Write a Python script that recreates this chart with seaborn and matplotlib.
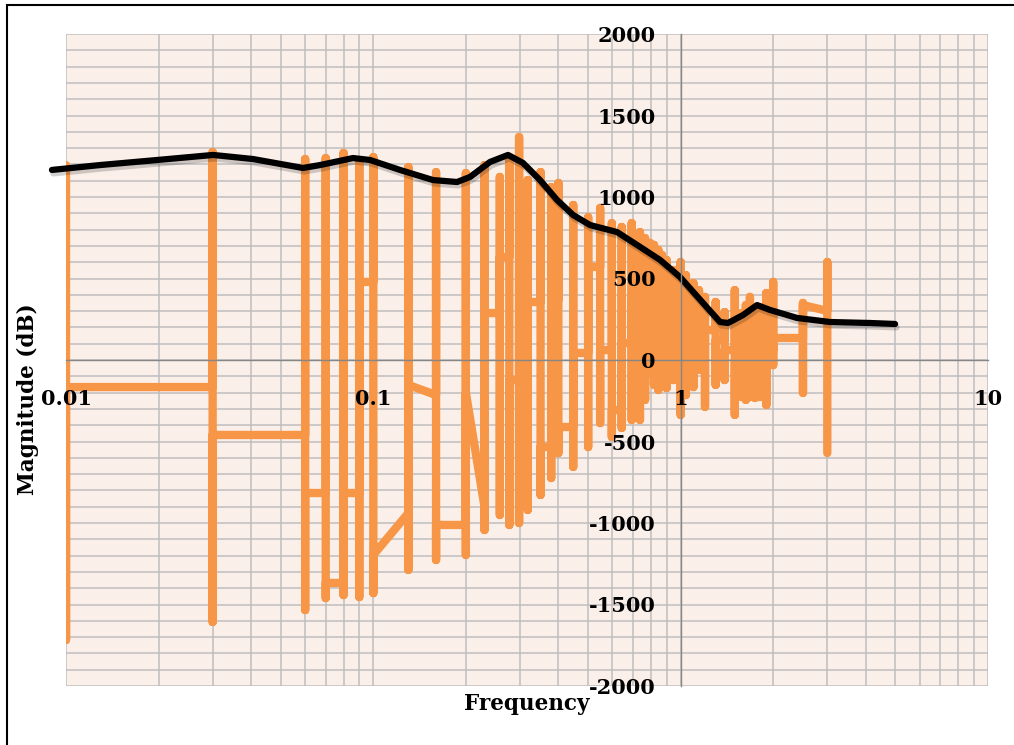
import numpy as np
import matplotlib
matplotlib.use("Agg")
import matplotlib.pyplot as plt
import matplotlib.patheffects as pe
from matplotlib.ticker import LogLocator, MultipleLocator, NullLocator
from matplotlib.patches import Rectangle
import seaborn as sns

# ---------------- data ----------------
# orange trace: vertical spikes at each frequency, joined by links
spike_freq = [0.01, 0.03, 0.06, 0.07, 0.08, 0.09, 0.10, 0.13, 0.16, 0.20,
              0.23, 0.258, 0.277, 0.298, 0.318, 0.35, 0.379, 0.40, 0.447, 0.50,
              0.547, 0.597, 0.643, 0.693, 0.737, 0.766, 0.795, 0.819, 0.846, 0.87,
              0.90, 0.947, 1.00, 1.04, 1.10, 1.147, 1.20, 1.30, 1.39, 1.50,
              1.58, 1.63, 1.68, 1.745, 1.81, 1.90, 2.00, 2.50, 3.00]
spike_top = [1196, 1276, 1233, 1239, 1270, 1209, 1245, 1184, 1153, 1147,
             1196, 1123, 1245, 1368, 1104, 1153, 1061, 1086, 951, 877,
             933, 840, 816, 840, 785, 748, 718, 706, 675, 644,
             613, 552, 601, 521, 472, 429, 387, 356, 294, 429,
             288, 337, 387, 307, 325, 411, 479, 350, 601]
spike_bottom = [-1718, -1607, -1534, -1460, -1442, -1454, -1430, -1288, -1227, -1196,
                -1043, -951, -1012, -1000, -920, -828, -724, -571, -656, -534,
                -387, -472, -417, -368, -368, -245, -80, -153, -184, -123,
                -172, -123, -337, -215, -166, -61, -288, -153, -123, -337,
                -227, -245, -227, -233, -227, -276, -31, -202, -571]
link_start = [-166, -460, -816, -1368, -816, 479, -1196, -153, -1012, -200,
              288, 632, -123, 184, 356, -534, 368, -411, 43, 571,
              61, -307, 104, 368, 184, 245, 61, 368, 123, 245,
              350, 350, 184, 61, 184, 245, 184, 123, 61, 0,
              184, 123, 184, 61, 153, 61, 135, 337]
link_end = [-166, -460, -816, -1368, -816, 479, -939, -215, -1012, -900,
            288, 632, -123, 184, 356, -534, 368, -411, 43, 571,
            61, -307, 104, 368, 184, 245, 61, 368, 123, 245,
            350, 350, 184, 61, 184, 245, 184, 123, 61, 0,
            184, 123, 184, 61, 153, 61, 135, 301]

# black smoothed trend
trend_freq = [0.009, 0.0129, 0.0198, 0.0301, 0.0406, 0.059, 0.0671, 0.0859, 0.0976, 0.1221,
              0.1564, 0.1872, 0.2064, 0.2397, 0.2743, 0.3069, 0.3486, 0.396, 0.4464, 0.507,
              0.6207, 0.7211, 0.8569, 0.9952, 1.182, 1.343, 1.426, 1.596, 1.772, 1.953,
              2.391, 3.062, 4.131, 4.984]
trend_mag = [1166, 1196, 1227, 1258, 1233, 1178, 1196, 1239, 1227, 1166,
             1104, 1092, 1123, 1215, 1258, 1209, 1104, 982, 890, 828,
             785, 706, 614, 509, 350, 233, 227, 276, 337, 307,
             258, 233, 227, 221]

x_ticks = [0.01, 0.1, 1, 10]
x_tick_labels = ["0.01", "0.1", "1", "10"]
y_ticks = list(range(-2000, 2001, 500))
y_tick_labels = [str(v) for v in y_ticks]

# build orange path
path_f, path_m = [], []
n = len(spike_freq)
for i in range(n):
    f = spike_freq[i]
    if i > 0:
        path_f.append(f); path_m.append(link_end[i - 1])
    path_f += [f, f]
    path_m += [spike_top[i], spike_bottom[i]]
    if i < n - 1:
        path_f.append(f); path_m.append(link_start[i])

# ---------------- style ----------------
sns.set_style("white")
plt.rcParams['font.family'] = ['DejaVu Serif']
plt.rcParams['axes.unicode_minus'] = False
plt.rcParams['text.color'] = 'black'
plt.rcParams['xtick.color'] = 'black'
plt.rcParams['ytick.color'] = 'black'

W, H = 1014, 745
fig = plt.figure(figsize=(W / 100, H / 100), dpi=100)
rect = [66 / W, 1 - 686 / H, (988 - 66) / W, (686 - 34) / H]

# background axes with grid
bg = fig.add_axes(rect)
bg.set_facecolor('#FBEFEA')
bg.set_xscale('log')
bg.set_xlim(0.01, 10)
bg.set_ylim(-2000, 2000)
bg.xaxis.set_major_locator(LogLocator(base=10))
bg.xaxis.set_minor_locator(LogLocator(base=10, subs=np.arange(2, 10)))
bg.yaxis.set_major_locator(MultipleLocator(500))
bg.yaxis.set_minor_locator(MultipleLocator(100))
bg.grid(which='both', color='#BEBEBE', linewidth=1.1)
bg.tick_params(which='both', length=0, labelleft=False, labelbottom=False)
for s in bg.spines.values():
    s.set_visible(False)

# data axes on top
ax = fig.add_axes(rect)
ax.patch.set_visible(False)
ax.set_xscale('log')

sns.lineplot(x=path_f, y=path_m, sort=False, estimator=None, color='#F79646',
             linewidth=6, ax=ax, solid_capstyle='round', solid_joinstyle='round')
sns.lineplot(x=trend_freq, y=trend_mag, sort=False, estimator=None, color='black',
             linewidth=4.5, ax=ax, solid_capstyle='round', solid_joinstyle='round')
trend_line = ax.lines[-1]
trend_line.set_clip_on(False)
trend_line.set_path_effects([pe.SimpleLineShadow(offset=(1, -2.5), alpha=0.18, shadow_color='black'),
                             pe.Normal()])

ax.set_xlim(0.01, 10)
ax.set_ylim(-2000, 2000)
ax.grid(False)
ax.set_xlabel('')
ax.set_ylabel('')
ax.set_axisbelow(False)

ax.spines['left'].set_position(('data', 1))
ax.spines['bottom'].set_position(('data', 0))
ax.spines['top'].set_visible(False)
ax.spines['right'].set_visible(False)
for s in ('left', 'bottom'):
    ax.spines[s].set_color('#868686')
    ax.spines[s].set_linewidth(1.0)

ax.xaxis.set_minor_locator(NullLocator())
ax.yaxis.set_minor_locator(NullLocator())
ax.set_xticks(x_ticks)
ax.set_xticklabels(x_tick_labels)
ax.set_yticks(y_ticks)
ax.set_yticklabels(y_tick_labels)
ax.tick_params(axis='x', length=0, pad=21, labelsize=15, labelcolor='black')
ax.tick_params(axis='y', length=7, width=1, color='#868686', pad=11,
               labelsize=15, direction='out', labelcolor='black')
for lbl in ax.get_xticklabels() + ax.get_yticklabels():
    lbl.set_fontweight('bold')

fig.text(527 / W, 1 - 704 / H, 'Frequency', ha='center', va='center',
         fontsize=15.5, fontweight='bold', color='black')
fig.text(28 / W, 1 - 399 / H, 'Magnitude (dB)', ha='center', va='center',
         rotation=90, fontsize=15.5, fontweight='bold', color='black')

fig.add_artist(Rectangle((7 / W, -0.1), 1.2, 0.1 + (1 - 5 / H),
                         transform=fig.transFigure, fill=False,
                         edgecolor='black', linewidth=1.5, clip_on=False))

fig.savefig('out.png', dpi=100)
